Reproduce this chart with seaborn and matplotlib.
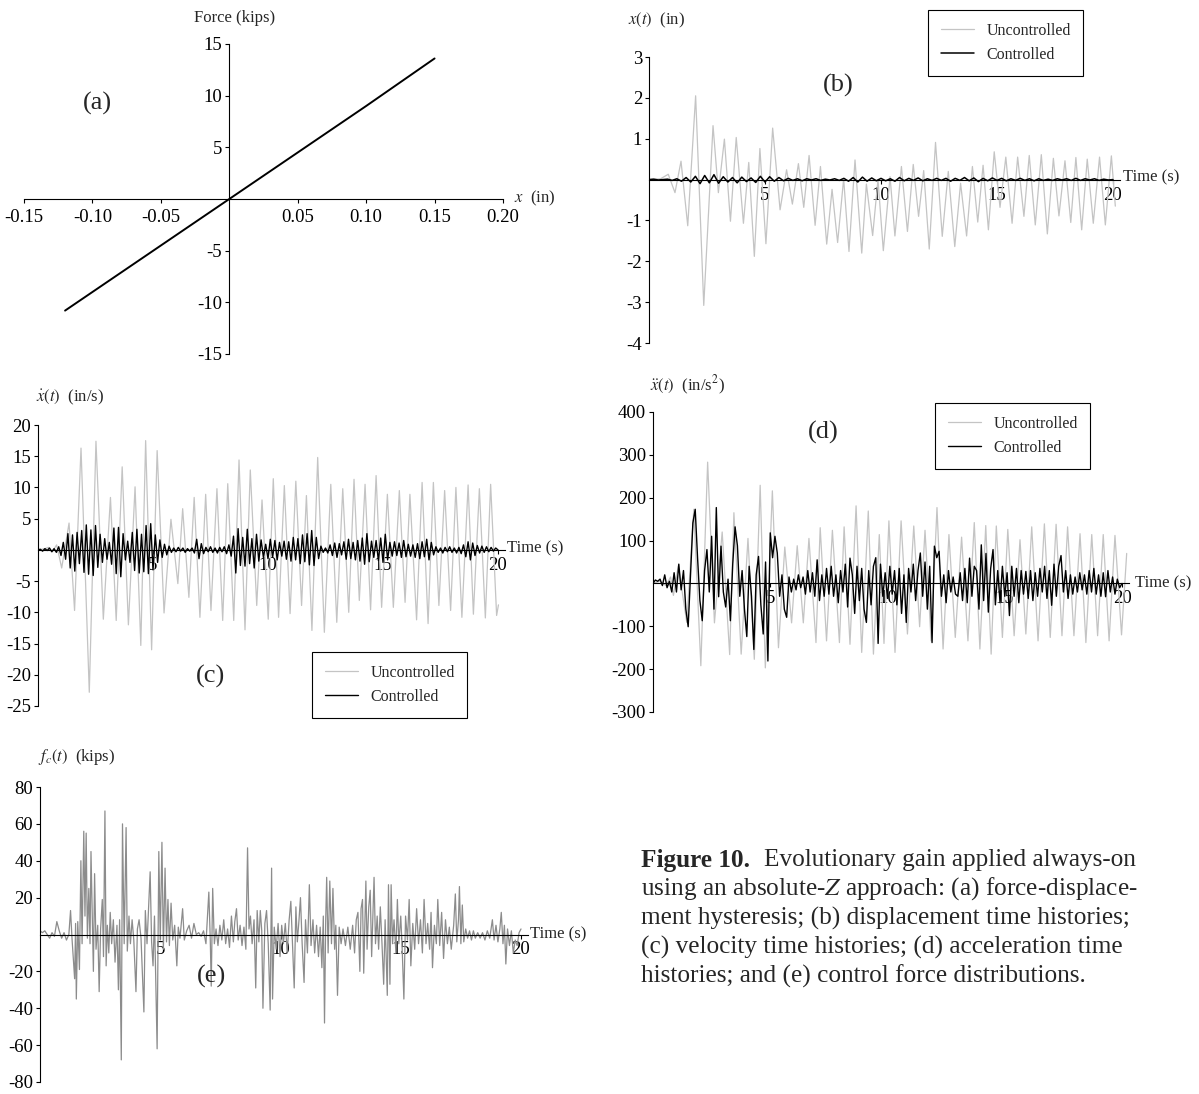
import numpy as np
import matplotlib
matplotlib.use("Agg")
import matplotlib.pyplot as plt
import seaborn as sns

# --- DATA ---

# (a) force-displacement
disp_a = [-0.12, -0.10, -0.05, 0.0, 0.05, 0.10, 0.15]
force_a = [-10.8, -9.0, -4.5, 0.0, 4.5, 9.0, 13.6]

# (b) displacement, uncontrolled: extremes (time s, in)
t_b_unc = [0.0, 0.5, 0.83, 1.12, 1.38, 1.67, 2.01, 2.36, 2.76, 2.99, 3.25, 3.51, 3.76, 4.07,
           4.30, 4.54, 4.78, 5.04, 5.33, 5.65, 5.93, 6.18, 6.44, 6.67, 6.90, 7.16, 7.39, 7.66,
           7.89, 8.13, 8.39, 8.62, 8.88, 9.17, 9.37, 9.64, 9.87, 10.10, 10.39, 10.60, 10.88,
           11.14, 11.39, 11.62, 11.84, 12.08, 12.35, 12.64, 12.90, 13.18, 13.43, 13.69, 13.94,
           14.17, 14.40, 14.63, 14.88, 15.13, 15.38, 15.65, 15.89, 16.16, 16.39, 16.65, 16.91,
           17.17, 17.43, 17.67, 17.93, 18.18, 18.40, 18.65, 18.89, 19.15, 19.42, 19.67, 19.93, 20.1]
x_b_unc = [0.0, 0.02, 0.13, -0.32, 0.45, -1.13, 2.05, -3.08, 1.32, -0.32, 0.99, -1.02, 1.03, -1.07,
           0.42, -1.88, 0.76, -1.57, 1.26, -0.74, 0.24, -0.60, 0.39, -0.68, 0.59, -1.12, 0.32, -1.58,
           -0.24, -1.54, 0.02, -1.76, 0.48, -1.80, -0.11, -1.37, 0.0, -1.74, 0.07, -1.38, 0.32,
           -1.27, 0.37, -0.90, 0.22, -1.70, 0.91, -1.39, 0.20, -1.64, -0.09, -1.38, 0.32,
           -1.04, 0.35, -1.23, 0.68, -0.68, 0.55, -1.07, 0.55, -0.90, 0.59, -1.11, 0.61,
           -1.33, 0.52, -0.89, 0.46, -1.05, 0.54, -1.23, 0.50, -1.07, 0.55, -1.11, 0.58, -0.65]

# (b) displacement, controlled: sampled every 0.2 s
x_b_ctl = [0.0, 0.01, -0.01, 0.0, 0.01, -0.02, 0.02, -0.04, 0.05, -0.06, 0.08, -0.10, 0.10, -0.08,
           0.12, -0.09, 0.07, -0.06, 0.05, -0.08, 0.06, -0.05, 0.04, -0.07, 0.08, -0.06, 0.07,
           -0.04, 0.05, -0.03, 0.03, -0.02, 0.02, -0.03, 0.02, -0.01, 0.02, -0.02, 0.01, -0.01,
           0.02, -0.02, 0.03, -0.04, 0.05, -0.06, 0.06, -0.04, 0.04, -0.03, 0.03, -0.03, 0.02,
           -0.04, 0.05, -0.03, 0.03, -0.02, 0.04, -0.03, 0.02, -0.02, 0.03, -0.02, 0.03, -0.04,
           0.03, -0.02, 0.05, -0.03, 0.04, -0.05, 0.03, -0.03, 0.04, -0.02, 0.03, -0.03, 0.02,
           -0.02, 0.03, -0.02, 0.02, -0.03, 0.02, -0.02, 0.01, -0.02, 0.02, -0.01, 0.02, -0.02,
           0.03, -0.02, 0.02, -0.01, 0.02, -0.02, 0.01, -0.01, 0.0]

# (c) velocity, uncontrolled: extremes (time s, in/s)
t_c_unc = [0.0, 0.3, 0.45, 0.62, 0.81, 1.03, 1.35, 1.59, 1.87, 2.23, 2.52, 2.84, 3.15, 3.40, 3.66,
           3.93, 4.22, 4.47, 4.68, 4.94, 5.18, 5.48, 5.78, 6.08, 6.29, 6.56, 6.79, 7.04, 7.29,
           7.52, 7.78, 8.03, 8.25, 8.51, 8.74, 9.00, 9.23, 9.51, 9.74, 10.01, 10.23, 10.46,
           10.71, 10.96, 11.21, 11.46, 11.67, 11.91, 12.16, 12.45, 12.73, 12.99, 13.25, 13.51,
           13.74, 13.97, 14.22, 14.46, 14.70, 14.94, 15.19, 15.45, 15.71, 15.96, 16.17, 16.46,
           16.70, 16.96, 17.19, 17.43, 17.68, 17.94, 18.17, 18.43, 18.70, 18.93, 19.19, 19.45,
           19.68, 19.94, 20.02]
v_c_unc = [0.0, 0.2, 0.4, -0.3, 0.8, -2.9, 4.3, -9.7, 16.3, -22.8, 17.4, -11.1, 8.4, -11.3, 13.3,
           -12.0, 10.1, -15.3, 17.5, -16.0, 15.9, -10.1, 4.9, -5.4, 6.6, -7.6, 8.4, -10.8, 8.9,
           -9.7, 9.8, -11.3, 10.6, -11.3, 14.4, -12.8, 12.8, -8.9, 8.0, -11.1, 11.4, -10.8,
           10.3, -10.2, 11.0, -8.9, 8.7, -12.9, 14.8, -13.2, 10.5, -11.6, 9.8, -10.0,
           11.3, -8.1, 10.5, -9.6, 11.9, -9.2, 8.9, -9.2, 9.5, -8.4, 8.9, -11.2,
           10.8, -11.8, 10.8, -8.9, 9.5, -9.7, 10.0, -10.8, 10.4, -10.3, 9.8, -10.9,
           10.5, -10.5, -8.8]

# (c) velocity, controlled: sampled every 0.1 s
v_c_ctl = [0.0, 0.1, -0.2, 0.2, -0.1, 0.3, -0.3, 0.2, -0.4, 0.5,
           -0.9, 1.2, -1.5, 2.6, -2.9, 2.4, -3.4, 2.8, -2.2, 3.1,
           -3.6, 4.0, -3.9, 3.2, -4.1, 3.9, -2.8, 2.5, -2.0, 1.8,
           -1.5, 1.2, -2.3, 3.5, -3.8, 3.6, -4.3, 2.6, -1.6, 1.4,
           -2.0, 2.8, -3.3, 3.3, -3.7, 2.5, -3.5, 3.9, -3.8, 4.2,
           -3.2, 2.4, -2.0, 1.6, -1.2, 0.9, -0.8, 0.6, -0.4, 0.3,
           -0.3, 0.4, -0.2, 0.3, -0.4, 0.2, -0.2, 0.3, -0.5, 1.7,
           -1.4, 1.0, -0.6, 0.4, -0.3, 0.5, -0.4, 0.3, -0.5, 0.4,
           -0.3, 0.5, -0.6, 0.8, -1.0, 2.2, -3.7, 3.4, -2.5, 2.0,
           -2.6, 3.3, -2.2, 1.8, -2.9, 2.5, -1.8, 1.6, -1.2, 0.9,
           -1.4, 1.7, -1.2, 1.5, -1.6, 1.2, -1.0, 1.4, -1.5, 1.3,
           -1.8, 2.0, -1.6, 1.8, -2.2, 2.4, -1.9, 2.6, -2.4, 3.1,
           -2.5, 2.0, -1.4, 0.6, -0.4, 0.3, -0.5, 0.8, -0.9, 1.1,
           -1.2, 1.0, -0.8, 1.3, -1.5, 1.7, -1.4, 1.2, -1.6, 1.5,
           -1.8, 1.9, -2.3, 2.6, -1.9, 1.4, -1.2, 1.5, -1.7, 1.9,
           -2.0, 2.5, -1.6, 1.2, -1.0, 1.3, -0.9, 1.1, -1.2, 1.5,
           -1.1, 0.9, -1.0, 0.8, -1.2, 1.0, -1.4, 1.3, -1.1, 1.7,
           -1.6, 1.2, -0.8, 0.5, -0.4, 0.3, -0.5, 0.4, -0.3, 0.5,
           -0.4, 0.3, -0.5, 0.4, -0.6, 0.8, -1.1, 1.3, -1.6, 1.1,
           -0.9, 0.7, -0.5, 0.6, -0.4, 0.5, -0.3, 0.4, -0.2, 0.3,
           0.0]

# (d) acceleration, uncontrolled: extremes (time s, in/s^2)
t_d_unc = [0.0, 0.3, 0.55, 0.75, 0.87, 1.08, 1.44, 1.74, 2.04, 2.33, 2.62, 2.95, 3.27, 3.45, 3.76,
           4.05, 4.32, 4.57, 4.79, 5.09, 5.35, 5.62, 5.91, 6.15, 6.41, 6.65, 6.95, 7.13, 7.40,
           7.65, 7.95, 8.15, 8.40, 8.66, 8.90, 9.18, 9.40, 9.65, 9.85, 10.06, 10.32, 10.58,
           10.85, 11.12, 11.37, 11.60, 11.86, 12.11, 12.37, 12.62, 12.89, 13.16, 13.43, 13.70,
           13.94, 14.19, 14.42, 14.64, 14.90, 15.13, 15.40, 15.65, 15.90, 16.15, 16.42, 16.69,
           16.94, 17.19, 17.44, 17.68, 17.95, 18.21, 18.46, 18.71, 18.96, 19.20, 19.45, 19.70,
           19.98, 20.2]
a_d_unc = [0, 5, -5, 15, -28, 41, -91, 173, -192, 283, -92, 120, -166, 165, -165,
           105, -177, 229, -197, 216, -150, 85, -92, 88, -92, 105, -138, 130, -134,
           124, -138, 132, -142, 181, -161, 169, -165, 114, -140, 146, -161, 146,
           -118, 134, -101, 124, -134, 177, -153, 114, -126, 108, -134, 142,
           -153, 135, -165, 134, -126, 126, -122, 102, -118, 132, -134, 139,
           -126, 138, -122, 132, -122, 116, -138, 114, -122, 114, -134, 112,
           -120, 70]

# (d) acceleration, controlled: sampled every 0.1 s
a_d_ctl = [0, 8, 5, 10, -5, 20, -10, 5, -20, 25,
           -20, 45, -15, 30, -60, -101, 20, 141, 173, 60,
           -40, -87, 30, 79, -20, 110, -60, 177, -31, 87,
           -20, -55, 10, -87, 45, 132, 88, -30, 30, -60,
           -124, 40, -30, -154, 20, 63, -50, -118, 50, -181,
           118, 60, 110, 71, -30, 20, -60, -79, 15, -20,
           10, -15, 20, -10, 15, -25, 30, -20, 25, -30,
           55, -40, 20, -30, 35, -25, 40, -30, 20, -45,
           30, -20, 45, -55, 59, 20, -70, 40, -40, 35,
           -60, -91, 30, -50, 40, 60, -140, 45, -30, 25,
           -35, 40, -25, 30, -50, 35, -70, 20, -91, 35,
           -20, 45, -40, 30, 71, -30, 50, -60, 40, -138,
           87, 60, 75, -30, 20, -45, 30, -20, 15, -25,
           -30, 25, -40, 35, -45, 59, -30, 40, 30, -60,
           90, -40, 70, -67, 35, 79, -50, 30, -45, 40,
           -30, 25, -75, 40, -30, 35, -45, 30, -25, 28,
           -35, 30, -40, 25, -30, 35, -20, 40, -35, 30,
           -51, 45, -30, 40, 65, -20, 30, -35, 20, -25,
           15, -20, 25, -15, 20, -25, 30, -20, 35, -25,
           20, -30, 25, -31, 30, -20, 15, -25, 10, -10,
           0]

# (e) control force (time s, kips)
t_e = [0.0, 0.1, 0.2, 0.3, 0.4, 0.5, 0.6, 0.7, 0.8, 0.9, 1.0, 1.1, 1.2, 1.27, 1.33, 1.44, 1.48,
       1.51, 1.57, 1.64, 1.70, 1.75, 1.82, 1.87, 1.92, 1.97, 2.03, 2.08, 2.12, 2.18, 2.22, 2.27,
       2.33, 2.40, 2.46, 2.52, 2.59, 2.64, 2.70, 2.75, 2.80, 2.86, 2.92, 2.98, 3.05, 3.12, 3.20,
       3.26, 3.31, 3.38, 3.43, 3.50, 3.58, 3.63, 3.70, 3.76, 3.83, 3.90, 3.99, 4.05, 4.12, 4.20,
       4.32, 4.38, 4.45, 4.52, 4.58, 4.64, 4.70, 4.76, 4.87, 4.94, 5.00, 5.07, 5.13, 5.20, 5.26,
       5.32, 5.38, 5.45, 5.52, 5.60, 5.69, 5.75, 5.82, 5.93, 6.0, 6.1, 6.2, 6.3, 6.4, 6.5, 6.6,
       6.7, 6.8, 6.90, 7.02, 7.08, 7.12, 7.18, 7.25, 7.32, 7.40, 7.48, 7.56, 7.64, 7.72, 7.80,
       7.88, 7.96, 8.04, 8.10, 8.17, 8.24, 8.32, 8.40, 8.48, 8.56, 8.63, 8.69, 8.75, 8.82, 8.90,
       8.97, 9.03, 9.10, 9.16, 9.22, 9.27, 9.35, 9.42, 9.49, 9.57, 9.63, 9.67, 9.74, 9.82, 9.90,
       9.98, 10.05, 10.12, 10.20, 10.28, 10.36, 10.43, 10.50, 10.57, 10.64, 10.70, 10.77, 10.83,
       10.90, 10.98, 11.04, 11.12, 11.20, 11.27, 11.35, 11.42, 11.50, 11.58, 11.65, 11.72, 11.78,
       11.83, 11.88, 11.92, 11.98, 12.05, 12.12, 12.18, 12.25, 12.30, 12.37, 12.44, 12.52, 12.60,
       12.70, 12.80, 12.90, 13.0, 13.08, 13.15, 13.22, 13.30, 13.35, 13.41, 13.46, 13.55, 13.60,
       13.67, 13.73, 13.79, 13.89, 13.95, 14.02, 14.08, 14.15, 14.22, 14.29, 14.35, 14.44, 14.49,
       14.55, 14.60, 14.66, 14.72, 14.80, 14.86, 14.92, 15.0, 15.06, 15.13, 15.20, 15.28, 15.35,
       15.42, 15.50, 15.58, 15.66, 15.74, 15.82, 15.90, 15.97, 16.05, 16.12, 16.20, 16.26, 16.32,
       16.40, 16.48, 16.54, 16.62, 16.70, 16.78, 16.86, 16.94, 17.02, 17.10, 17.20, 17.27, 17.33,
       17.40, 17.44, 17.50, 17.56, 17.62, 17.70, 17.78, 17.86, 17.94, 18.02, 18.10, 18.20, 18.30,
       18.40, 18.50, 18.60, 18.70, 18.81, 18.88, 18.96, 19.04, 19.12, 19.18, 19.25, 19.31, 19.37,
       19.44, 19.52, 19.60, 19.68, 19.76, 19.84, 19.92, 20.0]
f_e = [2, 1, 2, 0, -2, 1, -1, 7, 2, -2, 1, -3, 0, 13, -2, -24, 6,
       -35, 7, -19, 40, -5, 56, 10, 55, -2, 25, -5, 45, 5, -20, 33,
       -8, 5, -31, 3, 19, -12, 67, -17, 5, -10, 12, -5, 8, -15, 5,
       -30, 8, -68, 60, -5, 58, -9, 10, -5, 8, -3, -31, 3, 8, -2,
       -42, 13, -5, 16, 34, -4, -17, 10, -62, 45, -3, 50, -8, 36, -4,
       19, -6, 17, -3, 5, -17, 4, -2, 14, -3, 2, 5, -2, 6, 0, 1,
       -1, 2, -5, 23, -3, -28, 25, -5, 3, -6, 5, -3, 8, -5, 3,
       -7, 10, -4, 7, 14, -3, 5, -6, 4, -8, 47, 3, 10, -5, 8,
       -29, 13, -4, 13, 2, -40, 6, 13, -5, -41, 36, -35, 4, -8, 6,
       -12, 5, -5, 6, -10, 8, 18, -6, -29, 15, -4, 8, 20,
       -5, -26, 8, -10, 27, -6, 8, -10, 5, -12, 4, -18, 10,
       -48, 8, 31, -10, 29, -5, 25, -8, 5, -33, 4, -5, 3,
       -6, 4, -8, 5, -10, 8, 12, -20, 14, 19, -21, 29, -8,
       15, 24, -12, 31, -5, 10, -8, 15, -5, -27, 8, -33, 27,
       -27, 27, -5, 8, -10, 19, -5, 10, -8, -35, 10, -3, 19,
       -17, 6, -8, 14, -5, 8, -10, 19, -5, 6, -8, 12, -18,
       5, -5, 19, -6, 12, -13, 8, -5, 4, -8, 5, 22, -4,
       8, 26, -5, 16, -4, 3, -2, 2, -3, 2, -2, 1, -2,
       1, -3, 2, -2, 8, -3, 5, -4, 3, 12, -5, 5, -16,
       3, -6, 2, -10, -3, -6, 1, 3]

# --- FIGURE SETUP ---
W, H = 1199, 1094
sns.set_theme(style="white")
plt.rcParams["font.family"] = ["Liberation Serif", "DejaVu Serif"]
plt.rcParams["mathtext.fontset"] = "stix"
plt.rcParams["axes.unicode_minus"] = False

UNC = "#c4c4c4"
CTL = "black"
FS = 13.5      # tick labels
LFS = 12       # axis / legend labels

fig = plt.figure(figsize=(W / 100, H / 100), dpi=100)


def add_ax(left, right, top, bottom):
    # pixel box -> figure fraction
    return fig.add_axes([left / W, 1 - bottom / H, (right - left) / W, (bottom - top) / H])


def style(ax, xticks, xlabels, yticks, ylabels):
    for s in ["top", "right"]:
        ax.spines[s].set_visible(False)
    for s in ["left", "bottom"]:
        ax.spines[s].set_position(("data", 0))
        ax.spines[s].set_color("black")
        ax.spines[s].set_linewidth(0.8)
    ax.set_xticks(xticks, xlabels)
    ax.set_yticks(yticks, ylabels)
    ax.tick_params(direction="out", length=3, width=0.8, labelsize=FS, pad=2,
                   colors="black", bottom=True, left=True)
    ax.set_xlabel("")
    ax.set_ylabel("")
    ax.patch.set_alpha(0)
    ax.grid(False)


def ftext(x, y, s, **kw):
    kw.setdefault("fontsize", LFS)
    kw.setdefault("va", "center")
    fig.text(x / W, 1 - y / H, s, **kw)


def legend(ax, x, y):
    leg = ax.legend(loc="upper left", bbox_to_anchor=(x / W, 1 - y / H),
                    bbox_transform=fig.transFigure, frameon=True, fancybox=False,
                    edgecolor="black", framealpha=1, fontsize=11.5, handlelength=2.1,
                    borderpad=0.8, labelspacing=0.5, handletextpad=0.75, borderaxespad=0)
    leg.get_frame().set_linewidth(0.8)


t_b_ctl = np.linspace(0, 20, len(x_b_ctl))
t_c_ctl = np.linspace(0, 20, len(v_c_ctl))
t_d_ctl = np.linspace(0, 20, len(a_d_ctl))

# --- (a) force-displacement ---
ax = add_ax(24, 503, 44, 354)
sns.lineplot(x=disp_a, y=force_a, ax=ax, color="black", lw=1.4, estimator=None, sort=False)
ax.set_xlim(-0.15, 0.20)
ax.set_ylim(-15, 15)
xt = [-0.15, -0.10, -0.05, 0.05, 0.10, 0.15, 0.20]
yt = [-15, -10, -5, 5, 10, 15]
style(ax, xt, [f"{v:.2f}" for v in xt], yt, [str(v) for v in yt])
ax.tick_params(axis="x", pad=4)
ftext(235, 18, "Force (kips)", ha="center")
ftext(514, 198, r"$x$  (in)", ha="left")
ftext(97, 103, "(a)", ha="center", fontsize=19)

# --- (b) displacement ---
pps = 23.2
ax = add_ax(649, 649 + 20.3 * pps, 57, 343)
sns.lineplot(x=t_b_unc, y=x_b_unc, ax=ax, color=UNC, lw=0.9, estimator=None, label="Uncontrolled")
sns.lineplot(x=t_b_ctl, y=x_b_ctl, ax=ax, color=CTL, lw=1.1, estimator=None, label="Controlled")
ax.set_xlim(0, 20.3)
ax.set_ylim(-4, 3)
yt = [-4, -3, -2, -1, 1, 2, 3]
style(ax, [5, 10, 15, 20], ["5", "10", "15", "20"], yt, [str(v) for v in yt])
legend(ax, 928, 10)
ftext(628, 20, r"$x(t)$  (in)", ha="left")
ftext(838, 85, "(b)", ha="center", fontsize=19)
ftext(1123, 177, "Time (s)", ha="left")

# --- (c) velocity ---
pps = 23.0
ax = add_ax(38, 38 + 20.3 * pps, 425, 706)
sns.lineplot(x=t_c_unc, y=v_c_unc, ax=ax, color=UNC, lw=0.9, estimator=None, label="Uncontrolled")
sns.lineplot(x=t_c_ctl, y=v_c_ctl, ax=ax, color=CTL, lw=1.0, estimator=None, label="Controlled")
ax.set_xlim(0, 20.3)
ax.set_ylim(-25, 20)
yt = [-25, -20, -15, -10, -5, 5, 10, 15, 20]
style(ax, [5, 10, 15, 20], ["5", "10", "15", "20"], yt, [str(v) for v in yt])
legend(ax, 312, 652)
ftext(36, 397, r"$\dot{x}(t)$  (in/s)", ha="left")
ftext(210, 676, "(c)", ha="center", fontsize=19)
ftext(507, 548, "Time (s)", ha="left")

# --- (d) acceleration ---
pps = 23.45
ax = add_ax(653, 653 + 20.3 * pps, 412, 712)
sns.lineplot(x=t_d_unc, y=a_d_unc, ax=ax, color=UNC, lw=0.9, estimator=None, label="Uncontrolled")
sns.lineplot(x=t_d_ctl, y=a_d_ctl, ax=ax, color=CTL, lw=1.0, estimator=None, label="Controlled")
ax.set_xlim(0, 20.3)
ax.set_ylim(-300, 400)
yt = [-300, -200, -100, 100, 200, 300, 400]
style(ax, [5, 10, 15, 20], ["5", "10", "15", "20"], yt, [str(v) for v in yt])
legend(ax, 935, 403)
ftext(650, 385, r"$\ddot{x}(t)$  (in/s$^2$)", ha="left")
ftext(823, 432, "(d)", ha="center", fontsize=19)
ftext(1135, 583, "Time (s)", ha="left")

# --- (e) control force ---
pps = 24.05
ax = add_ax(40, 40 + 20.3 * pps, 787, 1082)
sns.lineplot(x=t_e, y=f_e, ax=ax, color="#8c8c8c", lw=0.9, estimator=None)
ax.set_xlim(0, 20.3)
ax.set_ylim(-80, 80)
yt = [-80, -60, -40, -20, 20, 40, 60, 80]
style(ax, [5, 10, 15, 20], ["5", "10", "15", "20"], yt, [str(v) for v in yt])
ftext(38, 757, r"$f_c(t)$  (kips)", ha="left")
ftext(212, 976, "(e)", ha="center", fontsize=19)
ftext(530, 934, "Time (s)", ha="left")

# --- caption ---
CS = 18.2
ftext(641, 860, "Figure 10.", ha="left", fontsize=CS, fontweight="bold")
ftext(764, 860, "Evolutionary gain applied always-on", ha="left", fontsize=CS)
ftext(641, 889, r"using an absolute-$Z$ approach: (a) force-displace-", ha="left", fontsize=CS)
ftext(641, 918, "ment hysteresis; (b) displacement time histories;", ha="left", fontsize=CS)
ftext(641, 947, "(c) velocity time histories; (d) acceleration time", ha="left", fontsize=CS)
ftext(641, 976, "histories; and (e) control force distributions.", ha="left", fontsize=CS)

fig.savefig("out.png", dpi=100)
